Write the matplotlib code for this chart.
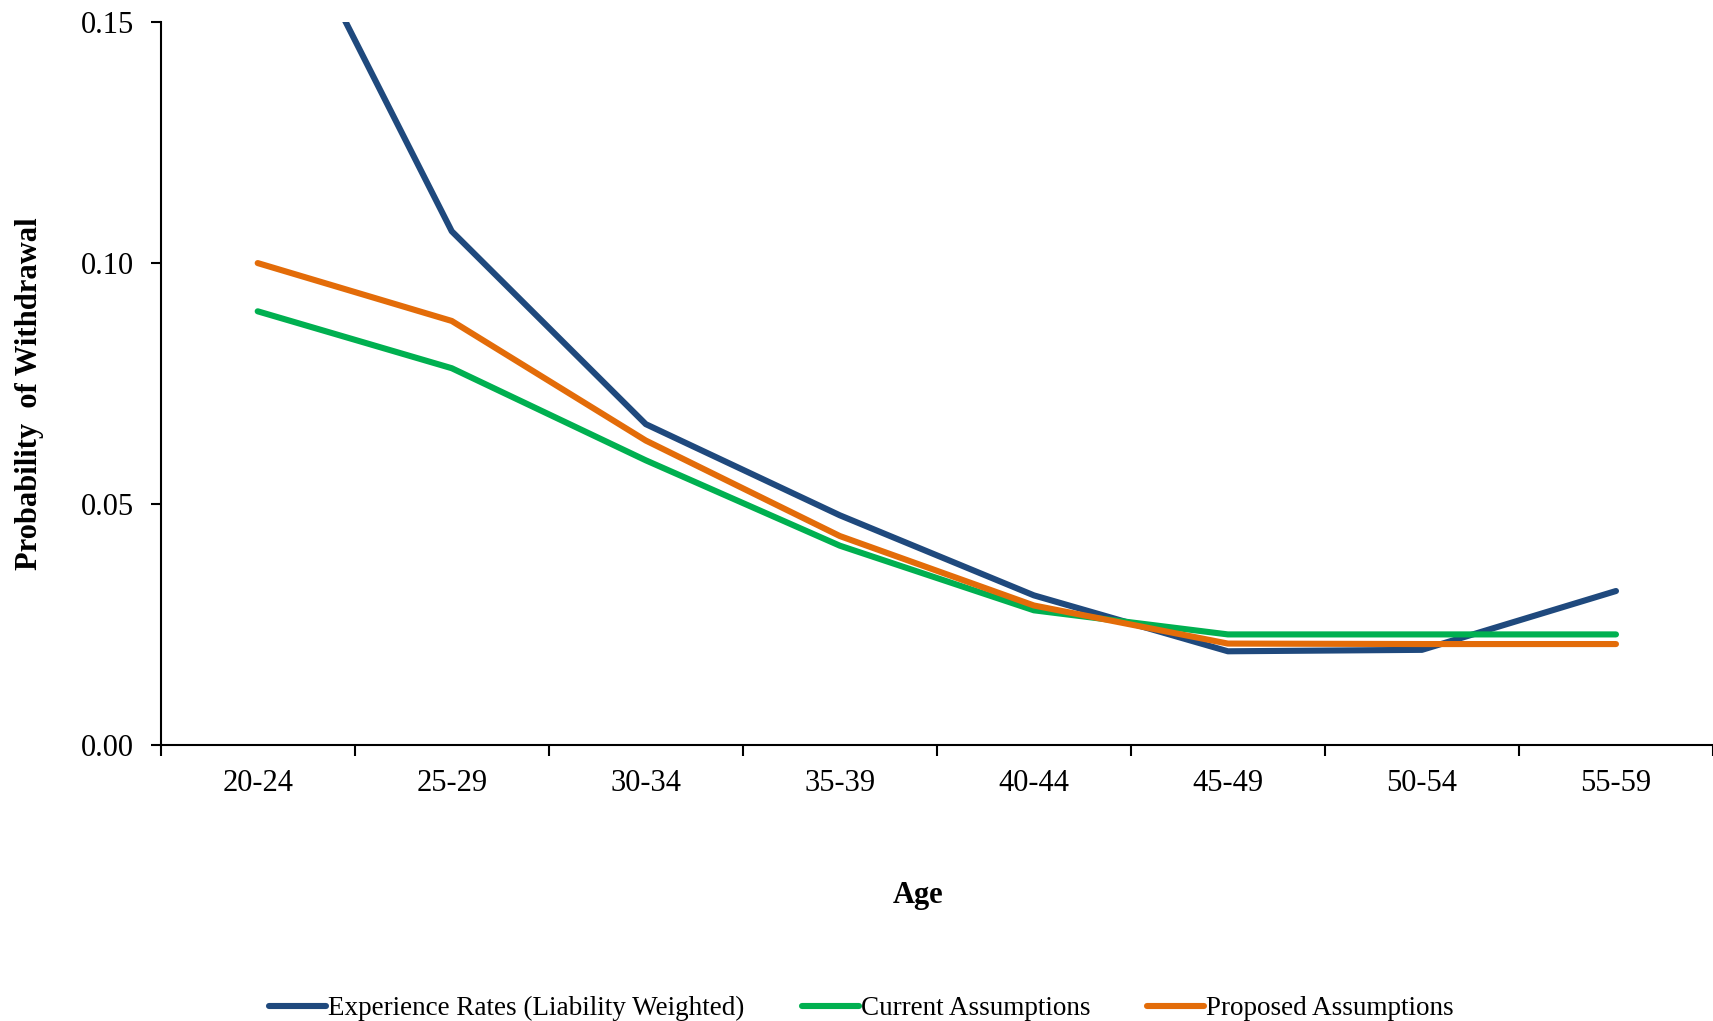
import matplotlib
matplotlib.use("Agg")
import matplotlib.pyplot as plt
import numpy as np

categories = ["20-24", "25-29", "30-34", "35-39", "40-44", "45-49", "50-54", "55-59"]
experience = [0.186, 0.1066, 0.0666, 0.0477, 0.0311, 0.0195, 0.0198, 0.032]
current = [0.090, 0.0782, 0.0591, 0.0414, 0.028, 0.023, 0.023, 0.023]
proposed = [0.100, 0.088, 0.0632, 0.0434, 0.029, 0.0211, 0.021, 0.021]
yticks = [0.00, 0.05, 0.10, 0.15]

plt.rcParams['font.family'] = ['Liberation Serif', 'DejaVu Serif']

fig = plt.figure(figsize=(17.13, 10.21), dpi=100)
ax = fig.add_axes([0.0938, 0.270, 0.9062, 0.7085])

x = np.arange(len(categories))
lw = 4.4
ax.plot(x, experience, color="#1F497D", lw=lw, label="Experience Rates (Liability Weighted)", solid_capstyle="round")
ax.plot(x, current, color="#00B050", lw=lw, label="Current Assumptions", solid_capstyle="round")
ax.plot(x, proposed, color="#E36C09", lw=lw, label="Proposed Assumptions", solid_capstyle="round")

ax.set_xlim(-0.5, len(categories) - 0.5)
ax.set_ylim(0, 0.15)
ax.set_yticks(yticks)
ax.set_yticklabels([f"{v:.2f}" for v in yticks], fontsize=22)
ax.set_xticks(np.arange(-0.5, len(categories), 1.0))
ax.set_xticklabels([])
ax.set_xticks(x, minor=True)
ax.set_xticklabels(categories, minor=True, fontsize=22)
ax.tick_params(axis='x', which='major', direction='out', length=8, width=1.5)
ax.tick_params(axis='x', which='minor', length=0, pad=17)
ax.tick_params(axis='y', direction='out', length=7, width=1.5, pad=12)
for s in ["top", "right"]:
    ax.spines[s].set_visible(False)
for s in ["left", "bottom"]:
    ax.spines[s].set_linewidth(1.5)

ax.set_xlabel("Age", fontsize=22, fontweight="bold", labelpad=60)
ax.xaxis.label.set_x(0.488)
ax.set_ylabel("Probability  of Withdrawal", fontsize=22, fontweight="bold")
ax.yaxis.set_label_coords(-0.075, 0.486)

fig.legend(loc="lower center", bbox_to_anchor=(0.503, -0.024), ncol=3, frameon=False,
           fontsize=19.5, handlelength=2.1, handletextpad=0.08, columnspacing=2.1)

fig.savefig("out.png", dpi=100)
